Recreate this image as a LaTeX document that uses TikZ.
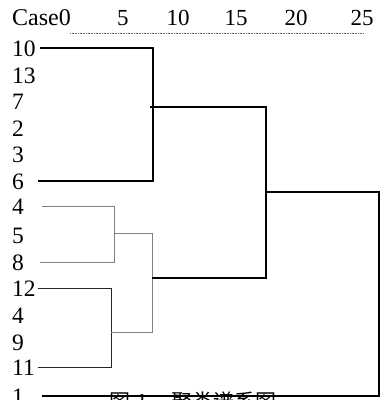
\documentclass[tikz,border=0pt]{standalone}
\usepackage{fontspec}
\setmainfont{Liberation Serif}
\newfontfamily\cjk{Noto Sans CJK SC}
\begin{document}
\begin{tikzpicture}[x=1pt,y=-1pt,
  lbl/.style={anchor=west,inner sep=0pt,font=\fontsize{23.5}{23.5}\selectfont,text height=16pt,text depth=0pt},
  hdr/.style={inner sep=0pt,font=\fontsize{23}{23}\selectfont,text height=15.5pt,text depth=0pt},
  thickl/.style={line width=1.6pt,black},
  thinl/.style={line width=0.9pt,black!50},
  thinb/.style={line width=0.9pt,black!85},
  capt/.style={anchor=base west,inner sep=0pt,font=\cjk\fontsize{21}{21}\selectfont}]
\clip (0,0) rectangle (380,400);
\fill[white] (0,0) rectangle (380,400);
% header
\node[hdr,anchor=west,font=\fontsize{24}{24}\selectfont] (case) at (12,17.5) {Case0};
\node[hdr] (h5) at (123,17.5) {5};
\node[hdr] (h10) at (178,17.5) {10};
\node[hdr] (h15) at (236,17.5) {15};
\node[hdr] (h20) at (296,17.5) {20};
\node[hdr] (h25) at (362,17.5) {25};
\coordinate (dl) at (70,33);
\coordinate (dr) at (364,33);
\draw[black!60,line width=0.8pt,dash pattern=on 0.8pt off 0.8pt] (dl) -- (dr);
% labels
\node[lbl] (l10) at (12,48) {10};
\node[lbl] (l13) at (12,75) {13};
\node[lbl] (l7) at (12,101) {7};
\node[lbl] (l2) at (12,128) {2};
\node[lbl] (l3) at (12,154) {3};
\node[lbl] (l6) at (12,181) {6};
\node[lbl] (l4a) at (12,206) {4};
\node[lbl] (l5) at (12,235) {5};
\node[lbl] (l8) at (12,262) {8};
\node[lbl] (l12) at (12,288) {12};
\node[lbl] (l4b) at (12,315) {4};
\node[lbl] (l9) at (12,342) {9};
\node[lbl] (l11) at (12,367) {11};
\node[lbl] (l1) at (12,396) {1};
% caption (partly cut off)
\node[capt] (cap) at (109,409) {图\hspace{6pt}1\hspace{24pt}聚类谱系图};
% joints
\coordinate (jA) at (153,107);
\coordinate (jB) at (114,233);
\coordinate (jC) at (111,332);
\coordinate (jD) at (152,278);
\coordinate (jE) at (266,192);
\coordinate (jF) at (379,192);
% cluster 10..6
\draw[thickl] ([xshift=28pt]l10.west) -- (jA |- l10) -- (jA |- l6) -- ([xshift=26pt]l6.west);
% cluster 4,5,8
\draw[thinl] ([xshift=30pt]l4a.west) -- (jB |- l4a) -- (jB |- l8) -- ([xshift=28pt]l8.west);
% cluster 12..11
\draw[thinb] ([xshift=26pt]l12.west) -- (jC |- l12) -- (jC |- l11) -- ([xshift=26pt]l11.west);
% join of the two lower clusters
\draw[thinl] (jB) -- (jD |- jB) -- (jD |- jC) -- (jC);
% upper joins
\draw[thickl] ([xshift=-3pt]jA) -- (jE |- jA) -- (jE |- jD) -- (jD);
\draw[thickl] (jE) -- (jF) -- (jF |- l1) -- ([xshift=30pt]l1.west);
\end{tikzpicture}
\end{document}
